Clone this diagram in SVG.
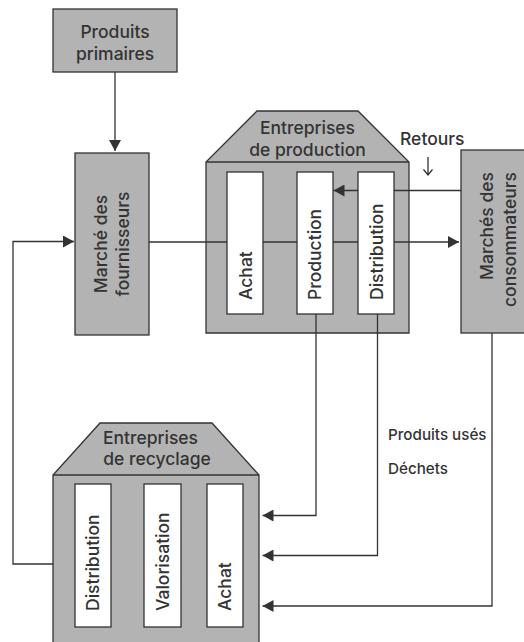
<svg xmlns="http://www.w3.org/2000/svg" width="524" height="642" viewBox="0 0 524 642">
<defs>
<style>
.box{fill:#b3b3b3;stroke:#333;stroke-width:1.3}
.col{fill:#fff;stroke:#333;stroke-width:1.3}
.ln{fill:none;stroke:#333;stroke-width:1.3}
.t{font-family:Inter,"Liberation Sans",Arial,sans-serif;font-weight:500;font-size:17.5px;fill:#333}
.s{font-family:Inter,"Liberation Sans",Arial,sans-serif;font-weight:500;font-size:15.2px;fill:#333}
.m{text-anchor:middle}
.e{text-anchor:end}
</style>
<marker id="ah" viewBox="0 0 11 12" refX="11" refY="6" markerWidth="11" markerHeight="12" markerUnits="userSpaceOnUse" orient="auto">
<path d="M0,0 L11,6 L0,12 z" fill="#333"/>
</marker>
</defs>
<rect width="524" height="642" fill="#fff"/>

<g id="produits-primaires">
<rect class="box" x="53" y="9" width="124" height="63"/>
<text class="t m" x="115" y="37.5">Produits</text>
<text class="t m" x="115" y="59.5">primaires</text>
</g>

<g id="marche-fournisseurs">
<rect class="box" x="75" y="153" width="74" height="182"/>
<text class="t m" transform="translate(106.5,244) rotate(-90)">Marché des</text>
<text class="t m" transform="translate(129,244) rotate(-90)">fournisseurs</text>
</g>

<g id="marches-consommateurs">
<rect class="box" x="461" y="150" width="70" height="183"/>
<text class="t e" transform="translate(493,172) rotate(-90)">Marchés des</text>
<text class="t e" transform="translate(516,172) rotate(-90)">consommateurs</text>
</g>

<g id="entreprises-production">
<path class="box" d="M206,333 L206,162 L257,111 L358,111 L409,162 L409,333 Z"/>
<line class="ln" x1="206" y1="162" x2="409" y2="162"/>
<text class="t m" x="307.5" y="133.5">Entreprises</text>
<text class="t m" x="307.5" y="155.5">de production</text>
</g>

<g id="entreprises-recyclage">
<path class="box" d="M53,650 L53,475 L100,423 L212,423 L259,475 L259,650"/>
<line class="ln" x1="53" y1="475" x2="259" y2="475"/>
<text class="t m" x="150.5" y="444">Entreprises</text>
<text class="t m" x="157" y="465">de recyclage</text>
</g>

<g id="connectors">
<line class="ln" x1="115" y1="72" x2="115" y2="151" marker-end="url(#ah)"/>
<line class="ln" x1="149" y1="242" x2="459" y2="242" marker-end="url(#ah)"/>
<line class="ln" x1="461" y1="190.5" x2="333.5" y2="190.5" marker-end="url(#ah)"/>
<polyline class="ln" points="316,314 316,515.5 262.5,515.5" marker-end="url(#ah)"/>
<polyline class="ln" points="377.5,314 377.5,555.5 262.5,555.5" marker-end="url(#ah)"/>
<polyline class="ln" points="492,333 492,606 262.5,606" marker-end="url(#ah)"/>
<polyline class="ln" points="53,564 13,564 13,241.5 74,241.5" marker-end="url(#ah)"/>
<path class="ln" d="M428,157 L428,175 M423.5,169.5 L428,175 L432.5,169.5" stroke-width="1.1"/>
</g>

<g id="retours-label">
<text class="t" x="400" y="145">Retours</text>
</g>
<g id="flux-labels">
<text class="s" x="388" y="439.5">Produits usés</text>
<text class="s" x="388" y="474">Déchets</text>
</g>

<g id="prod-achat">
<rect class="col" x="227" y="172" width="36" height="142"/>
<text class="t" transform="translate(252,300) rotate(-90)">Achat</text>
</g>
<g id="prod-production">
<rect class="col" x="297" y="172" width="36" height="142"/>
<text class="t" transform="translate(321,300) rotate(-90)">Production</text>
</g>
<g id="prod-distribution">
<rect class="col" x="358" y="172" width="36" height="142"/>
<text class="t" transform="translate(382.5,300) rotate(-90)">Distribution</text>
</g>

<g id="rec-distribution">
<rect class="col" x="75" y="484" width="36" height="143"/>
<text class="t" transform="translate(99,611) rotate(-90)">Distribution</text>
</g>
<g id="rec-valorisation">
<rect class="col" x="144" y="484" width="37" height="143"/>
<text class="t" transform="translate(169,611) rotate(-90)">Valorisation</text>
</g>
<g id="rec-achat">
<rect class="col" x="207" y="484" width="36" height="143"/>
<text class="t" transform="translate(231,611) rotate(-90)">Achat</text>
</g>
</svg>
